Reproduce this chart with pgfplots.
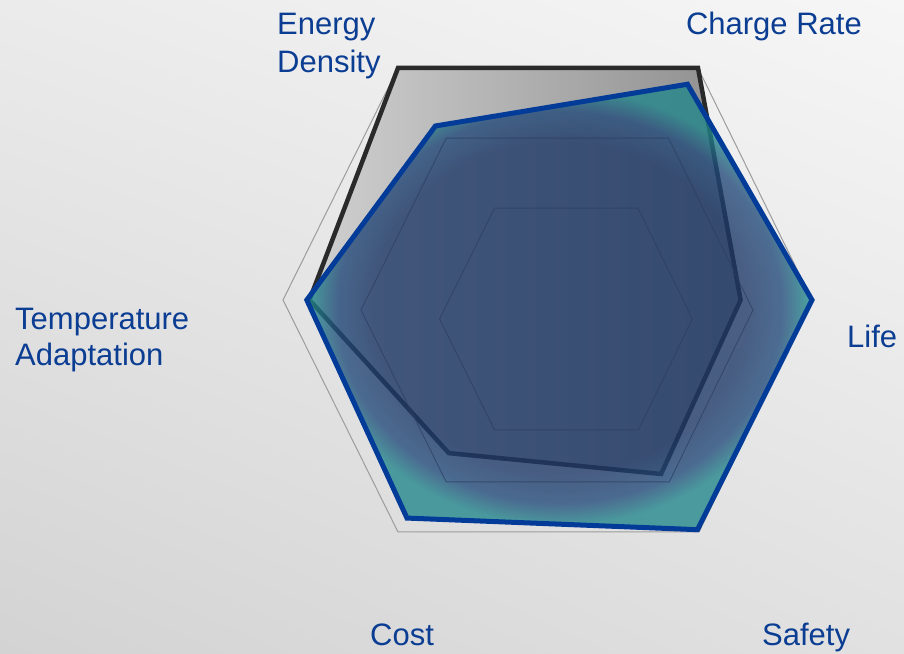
\documentclass[border=0pt]{standalone}
\usepackage{pgfplots}
\pgfplotsset{compat=1.18}
\usepackage{pgfplotstable}
\usetikzlibrary{shadings}
\usepackage{fontspec}
\setmainfont{Liberation Sans}
\definecolor{labelblue}{HTML}{0B3D93}
\definecolor{lineblue}{HTML}{033B98}
\definecolor{blackline}{HTML}{2A2A2A}
\definecolor{gridgray}{HTML}{9C9C9C}
\definecolor{gridin}{HTML}{2B3F60}
\definecolor{bluein}{HTML}{1C3766}
\definecolor{bluemid}{HTML}{21497A}
\definecolor{tealedge}{HTML}{20868B}
\definecolor{grayL}{HTML}{D0D0D0}
\definecolor{grayR}{HTML}{8E8E8E}
\definecolor{bgUL}{HTML}{EBEBEB}
\definecolor{bgUR}{HTML}{F6F6F6}
\definecolor{bgLL}{HTML}{D3D3D3}
\definecolor{bgLR}{HTML}{E1E1E1}
% the path bounding box maps to radius 25bp
\pgfdeclareradialshading{glowB}{\pgfpoint{0bp}{0bp}}{color(0bp)=(bluein); color(18.5bp)=(bluein); color(22bp)=(bluemid); color(24.5bp)=(tealedge); color(50bp)=(tealedge)}
\tikzset{lab/.style={inner sep=0pt, text=labelblue, font=\fontsize{31}{37}\selectfont}}

% category directions (outer ring vertex offsets) and scores (0-100)
\pgfplotstableread{
cat dx dy A B
ED -149.5 232 100 75
CR 150.5 232 100 93
Life 264.5 0 73 100
Safety 151.5 -232 75 99
Cost -149.5 -232 66 94
Temp -264.5 0 90 91
}\radar

\begin{document}
\begin{tikzpicture}
\begin{axis}[
  width=904pt, height=653pt, scale only axis,
  xmin=0, xmax=904, ymin=0, ymax=653,
  hide axis, clip=false,
]
\shade[upper left=bgUL, upper right=bgUR, lower left=bgLL, lower right=bgLR]
  (axis cs:0,0) rectangle (axis cs:904,653);

% outer grid ring
\addplot[gridgray, line width=1pt, line join=miter]
  table[x expr=547.5+\thisrow{dx}, y expr=353+\thisrow{dy}] {\radar} -- cycle;

% series A (black)
\addplot[draw=none, left color=grayL, right color=grayR]
  table[x expr=547.5+\thisrow{dx}*\thisrow{A}/100, y expr=353+\thisrow{dy}*\thisrow{A}/100] {\radar} -- cycle;
\addplot[blackline, line width=4.5pt, line join=miter]
  table[x expr=547.5+\thisrow{dx}*\thisrow{A}/100, y expr=353+\thisrow{dy}*\thisrow{A}/100] {\radar} -- cycle;

% series B fill
\addplot[draw=none, shade, shading=glowB, fill opacity=0.78]
  table[x expr=547.5+\thisrow{dx}*\thisrow{B}/100, y expr=353+\thisrow{dy}*\thisrow{B}/100] {\radar} -- cycle;

% inner grid rings
\addplot[gridin, line width=0.9pt, opacity=0.7, line join=miter]
  table[x expr=557+0.741*\thisrow{dx}, y expr=343+0.741*\thisrow{dy}] {\radar} -- cycle;
\addplot[gridin, line width=0.9pt, opacity=0.7, line join=miter]
  table[x expr=566+0.478*\thisrow{dx}, y expr=334+0.478*\thisrow{dy}] {\radar} -- cycle;

% series B line
\addplot[lineblue, line width=5pt, line join=miter]
  table[x expr=547.5+\thisrow{dx}*\thisrow{B}/100, y expr=353+\thisrow{dy}*\thisrow{B}/100] {\radar} -- cycle;

% category labels
\node[lab, anchor=base west] at (axis cs:277,618) {Energy};
\node[lab, anchor=base west] at (axis cs:277,580) {Density};
\node[lab, anchor=base east] at (axis cs:862,618) {Charge Rate};
\node[lab, anchor=base west] at (axis cs:847,305) {Life};
\node[lab, anchor=base west] at (axis cs:762,8) {Safety};
\node[lab, anchor=base west] at (axis cs:370,8) {Cost};
\node[lab, anchor=base west] at (axis cs:15,323) {Temperature};
\node[lab, anchor=base west] at (axis cs:15,287) {Adaptation};
\end{axis}
\end{tikzpicture}
\end{document}
